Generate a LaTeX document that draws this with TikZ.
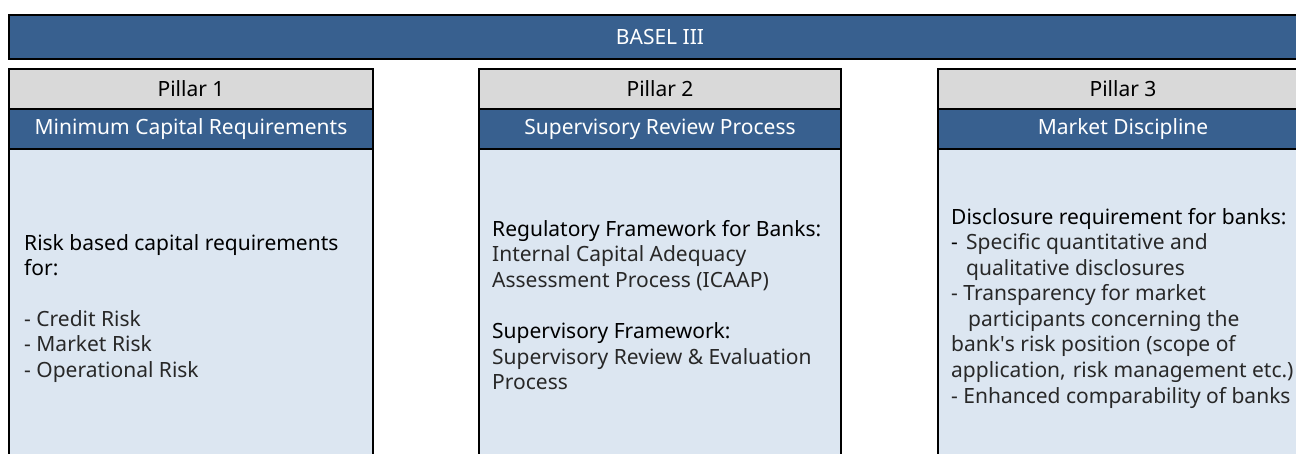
\documentclass[tikz,border=0pt]{standalone}
\usepackage{fontspec}
\setmainfont{Noto Sans}
\definecolor{bblue}{RGB}{56,96,143}
\definecolor{hgrey}{RGB}{217,217,217}
\definecolor{lblue}{RGB}{220,230,241}
\definecolor{itemtxt}{RGB}{40,40,40}
\begin{document}
\begin{tikzpicture}[x=1pt,y=-1pt,
  frame/.style={draw=black,line width=2pt,rectangle,inner sep=0pt},
  topbar/.style={frame,fill=bblue,text=white,font=\fontsize{21}{24}\selectfont},
  greyhead/.style={frame,fill=hgrey,text=black,font=\fontsize{21}{24}\selectfont},
  bluehead/.style={frame,fill=bblue,text=white,font=\fontsize{21}{24}\selectfont},
  bodybox/.style={frame,fill=lblue},
  headtxt/.style={inner sep=0pt,anchor=base west,text=black,font=\fontsize{21}{24}\selectfont},
  itemtxt/.style={inner sep=0pt,anchor=base west,text=itemtxt,font=\fontsize{21}{24}\selectfont}
]
\useasboundingbox (0,0) rectangle (1296,454);
\clip (0,0) rectangle (1296,454);
\fill[white] (0,0) rectangle (1296,454);

% top bar
\node[topbar,minimum width=1302,minimum height=44,anchor=north west] (basel) at (8,14) {BASEL III};

% Pillar 1
\node[bodybox,minimum width=364,minimum height=340,anchor=north west] (b1) at (8,148) {};
\node[greyhead,minimum width=364,minimum height=40,anchor=north west] (g1) at (8,68) {Pillar 1};
\node[bluehead,minimum width=364,minimum height=40,anchor=north west] (h1) at (8,108) {Minimum Capital Requirements};

% Pillar 2
\node[bodybox,minimum width=362,minimum height=340,anchor=north west] (b2) at (478,148) {};
\node[greyhead,minimum width=362,minimum height=40,anchor=north west] (g2) at (478,68) {Pillar 2};
\node[bluehead,minimum width=362,minimum height=40,anchor=north west] (h2) at (478,108) {Supervisory Review Process};

% Pillar 3
\node[bodybox,minimum width=370,minimum height=340,anchor=north west] (b3) at (937,148) {};
\node[greyhead,minimum width=370,minimum height=40,anchor=north west] (g3) at (937,68) {Pillar 3};
\node[bluehead,minimum width=370,minimum height=40,anchor=north west] (h3) at (937,108) {Market Discipline};

% Pillar 1 text
\node[headtxt] (t11) at (24,250.5) {Risk based capital requirements};
\node[headtxt] (t12) at (24,276) {for:};
\node[itemtxt] (t13) at (24,326.5) {- Credit Risk};
\node[itemtxt] (t14) at (24,352) {- Market Risk};
\node[itemtxt] (t15) at (24,377.5) {- Operational Risk};

% Pillar 2 text
\node[headtxt] (t21) at (492,236.5) {Regulatory Framework for Banks:};
\node[itemtxt] (t22) at (492,262) {Internal Capital Adequacy};
\node[itemtxt] (t23) at (492,287.5) {Assessment Process (ICAAP)};
\node[headtxt] (t24) at (492,338.5) {Supervisory Framework:};
\node[itemtxt] (t25) at (492,364) {Supervisory Review \& Evaluation};
\node[itemtxt] (t26) at (492,389.5) {Process};

% Pillar 3 text
\node[headtxt] (t31) at (951,224.5) {Disclosure requirement for banks:};
\node[headtxt] (t32d) at (951,250) {-};
\node[itemtxt] (t32) at (966,250) {Specific quantitative and};
\node[itemtxt] (t33) at (966,275.5) {qualitative disclosures};
\node[itemtxt] (t34) at (951,301) {- Transparency for market};
\node[itemtxt] (t35) at (968,326.5) {participants concerning the};
\node[itemtxt] (t36) at (951,352) {bank\textquotesingle s risk position (scope of};
\node[itemtxt] (t37) at (951,377.5) {application,\hspace{7pt}risk management etc.)};
\node[itemtxt] (t38) at (951,403) {- Enhanced comparability of banks};
\end{tikzpicture}
\end{document}
